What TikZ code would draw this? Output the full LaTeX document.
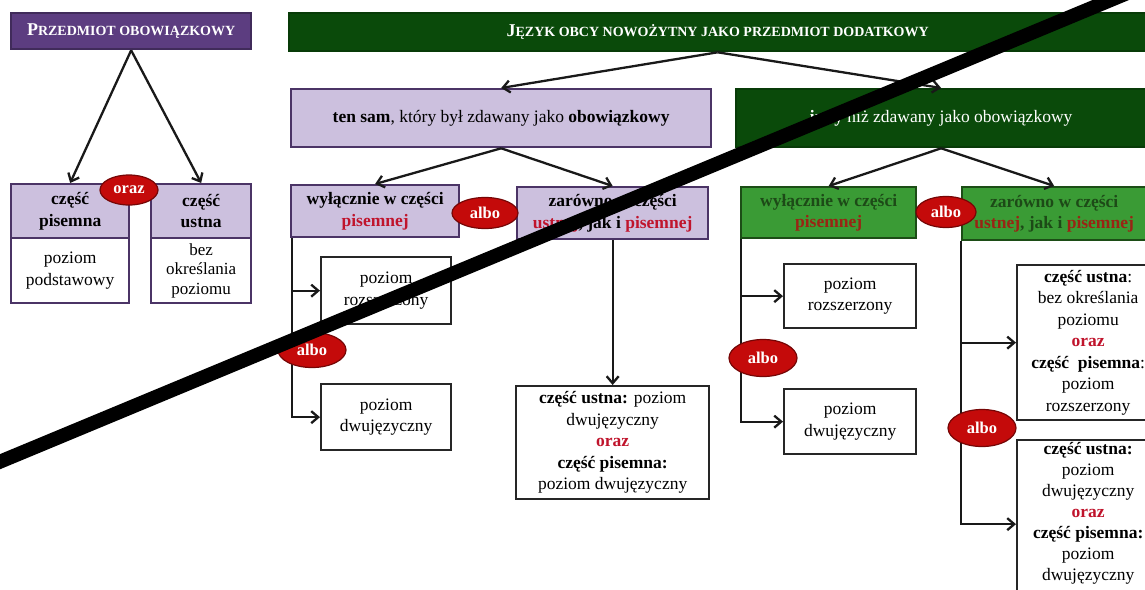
\documentclass[tikz,border=0pt]{standalone}
\usepackage{fontspec}
\setmainfont{Liberation Serif}
\usetikzlibrary{shapes.geometric,arrows.meta}
\definecolor{plum}{HTML}{5C3D80}
\definecolor{lilac}{HTML}{CCC0DE}
\definecolor{lilacedge}{HTML}{4B3466}
\definecolor{forest}{HTML}{0A4A0A}
\definecolor{leaf}{HTML}{3A9B35}
\definecolor{leafedge}{HTML}{1C4D16}
\definecolor{leaftext}{HTML}{1D4A17}
\definecolor{pillred}{HTML}{C40A0A}
\definecolor{wordred}{HTML}{C0142C}
\definecolor{wordbrown}{HTML}{9A2414}
\tikzstyle{plainbox}=[draw=black!85, line width=2.3pt, fill=white, align=center, inner sep=0pt]
\tikzstyle{lilacbox}=[plainbox, draw=lilacedge, fill=lilac]
\tikzstyle{plumbox}=[plainbox, draw=plum!70!black, fill=plum, text=white]
\tikzstyle{forestbox}=[plainbox, draw=forest!80!black, fill=forest, text=white]
\tikzstyle{leafbox}=[plainbox, draw=leafedge, fill=leaf, text=leaftext]
\tikzstyle{pill}=[ellipse, draw=pillred!60!black, line width=1.2pt, fill=pillred, text=white, font=\fontsize{16.5}{18}\selectfont\bfseries, inner sep=0pt]
\tikzstyle{branch}=[line width=2.3pt, black!90, -{Straight Barb[length=7pt,width=12pt]}]
\tikzstyle{slash}=[line width=14pt, black]
\newcommand{\hdfont}{\fontsize{17.5}{21.5}\selectfont\bfseries}
\newcommand{\fakesc}[2]{{\fontsize{18}{20}\selectfont #1}{\fontsize{14}{16}\selectfont #2}}
% Syntax: [style]{name}{x}{y}{width}{height}{text}, (x,y) = top left corner
\newcommand{\placebox}[7][plainbox]{
\node[#1, anchor=north west, minimum width=#5pt, minimum height=#6pt] (#2) at (#3,#4) {#7};
}

\begin{document}
\begin{tikzpicture}[x=1pt,y=-1pt, every node/.style={font=\fontsize{17.5}{21.5}\selectfont}]
\useasboundingbox (0,0) rectangle (1145,589);
\clip (0,0) rectangle (1145,589);
% przedmiot obowiazkowy
\placebox[plumbox, font=\bfseries]{tL}{10}{12}{240}{36}{\fakesc{P}{RZEDMIOT OBOWIĄZKOWY}}
\placebox[lilacbox, font=\hdfont]{hdrP}{10}{183}{118}{54}{część\\ pisemna}
\placebox[plainbox, draw=lilacedge]{bodyP}{10}{237}{118}{65}{poziom\\ podstawowy}
\placebox[lilacbox, font=\hdfont]{hdrU}{150}{183}{100}{54}{część\\ ustna}
\placebox[plainbox, draw=lilacedge, font=\fontsize{17}{19.5}\selectfont]{bodyU}{150}{237}{100}{65}{bez\\ określania\\ poziomu}
\draw[branch] (tL.south) -- (hdrP.north);
\draw[branch] (tL.south) -- (hdrU.north);
\node[pill, minimum width=58pt, minimum height=30pt] (oraz) at (129,190) {oraz};

% przedmiot dodatkowy
\placebox[forestbox, font=\bfseries]{gB}{288}{12}{857}{38}{\fakesc{J}{ĘZYK OBCY NOWOŻYTNY JAKO PRZEDMIOT DODATKOWY}}
\placebox[lilacbox]{sameB}{290}{88}{420}{58}{\textbf{ten sam}, który był zdawany jako \textbf{obowiązkowy}}
\placebox[forestbox]{otherB}{735}{88}{410}{58}{\textbf{inny} niż zdawany jako obowiązkowy}
\draw[branch] (gB.south) -- (sameB.north);
\draw[branch] (gB.south) -- (otherB.north);

% ten sam
\placebox[lilacbox, font=\hdfont]{excl1}{290}{184}{168}{52}{wyłącznie w części\\ \color{wordred}pisemnej}
\placebox[lilacbox, font=\hdfont]{both1}{516}{186}{191}{52}{zarówno w części\\ {\color{wordred}ustnej}, jak i {\color{wordred}pisemnej}}
\draw[branch] (sameB.south) -- (excl1.north);
\draw[branch] (sameB.south) -- (both1.north);
\placebox{rozsz1}{320}{256}{130}{67}{poziom\\ rozszerzony}
\placebox{dwuj1}{320}{383}{130}{66}{poziom\\ dwujęzyczny}
\coordinate (j1) at ([xshift=2pt]excl1.south west);
\draw[branch] (j1) |- (rozsz1.west);
\draw[branch] (j1) |- (dwuj1.west);
\placebox{mix1}{515}{385}{193}{113}{\textbf{część ustna:} poziom\\ dwujęzyczny\\ \textbf{\color{wordred}oraz}\\ \textbf{część pisemna:}\\ poziom dwujęzyczny}
\draw[branch] (both1.south) -- (mix1.north);

% inny
\placebox[leafbox, font=\hdfont]{excl2}{740}{186}{175}{51}{wyłącznie w części\\ \color{wordbrown}pisemnej}
\placebox[leafbox, font=\hdfont]{both2}{961}{186}{184}{53}{zarówno w części\\ {\color{wordbrown}ustnej}, jak i {\color{wordbrown}pisemnej}}
\draw[branch] (otherB.south) -- (excl2.north);
\draw[branch] (otherB.south) -- (both2.north);
\placebox{rozsz2}{783}{263}{132}{64}{poziom\\ rozszerzony}
\placebox{dwuj2}{783}{388}{132}{65}{poziom\\ dwujęzyczny}
\coordinate (j2) at ([xshift=1pt]excl2.south west);
\draw[branch] (j2) |- (rozsz2.west);
\draw[branch] (j2) |- (dwuj2.west);
\placebox{mixR1}{1016}{264}{142}{155}{\textbf{część ustna}:\\ bez określania\\ poziomu\\ \textbf{\color{wordred}oraz}\\ \textbf{część\ \ pisemna}:\\ poziom\\ rozszerzony}
\placebox[plainbox, font=\fontsize{17.5}{21}\selectfont]{mixR2}{1016}{439}{142}{168}{\textbf{część ustna:}\\ poziom\\ dwujęzyczny\\ \textbf{\color{wordred}oraz}\\ \textbf{część pisemna:}\\ poziom\\ dwujęzyczny\\[4pt]}
\coordinate (j3) at (both2.south west);
\draw[branch] (j3) |- (mixR1.west);
\draw[branch] (j3) |- (mixR2.west);

% albo
\node[pill, minimum width=66pt, minimum height=31pt] (albo1) at (485,213) {albo};
\node[pill, minimum width=60pt, minimum height=31pt] (albo2) at (946,212) {albo};
\node[pill, minimum width=68pt, minimum height=35pt] (albo3) at (312,350) {albo};
\node[pill, minimum width=68pt, minimum height=37pt] (albo4) at (763,358) {albo};
\node[pill, minimum width=68pt, minimum height=37pt] (albo5) at (982,428) {albo};

% przekreslenie
\coordinate (slashA) at (-20,470);
\coordinate (slashB) at (1130,-8);
\draw[slash] (slashA) -- (slashB);
\end{tikzpicture}
\end{document}
